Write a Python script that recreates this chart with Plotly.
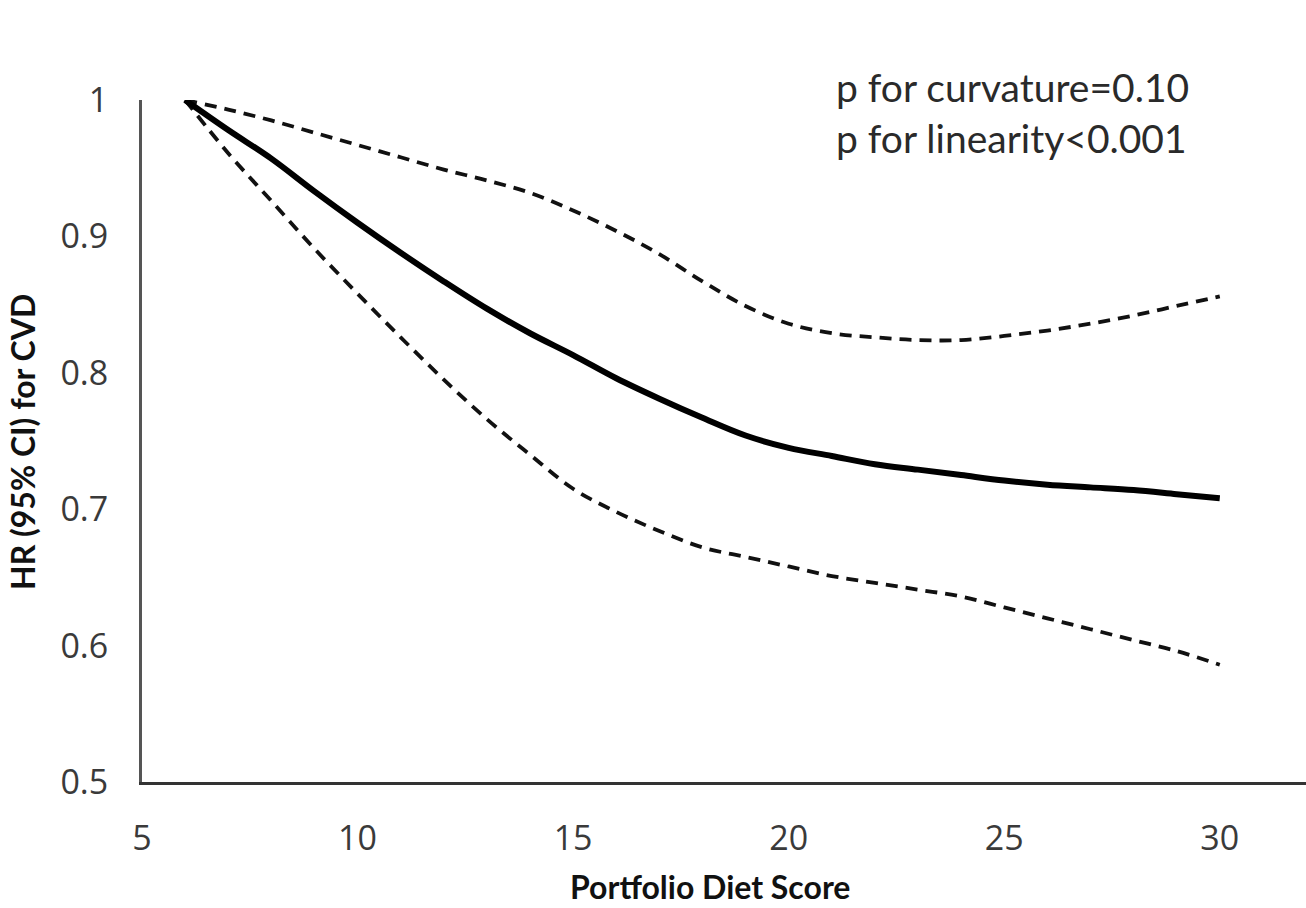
import plotly.graph_objects as go

# Portfolio Diet Score vs hazard ratio for CVD (restricted cubic spline)
score = [6, 7, 8, 9, 10, 11, 12, 13, 14, 15, 16, 17, 18, 19, 20,
         21, 22, 23, 24, 25, 26, 27, 28, 29, 30]
hr = [1.000, 0.978, 0.957, 0.933, 0.910, 0.888, 0.867, 0.847, 0.829, 0.813,
      0.796, 0.781, 0.767, 0.754, 0.745, 0.739, 0.733, 0.729, 0.725, 0.721,
      0.718, 0.716, 0.714, 0.711, 0.708]
ci_upper = [1.000, 0.993, 0.985, 0.976, 0.967, 0.958, 0.949, 0.941, 0.932, 0.919,
            0.904, 0.887, 0.867, 0.849, 0.836, 0.829, 0.826, 0.824, 0.824, 0.827,
            0.831, 0.836, 0.842, 0.849, 0.856]
ci_lower = [1.000, 0.961, 0.926, 0.891, 0.858, 0.826, 0.795, 0.766, 0.740, 0.715,
            0.698, 0.684, 0.672, 0.665, 0.658, 0.651, 0.646, 0.641, 0.636, 0.628,
            0.620, 0.612, 0.604, 0.596, 0.586]

x_ticks = [5, 10, 15, 20, 25, 30]
y_ticks = [0.5, 0.6, 0.7, 0.8, 0.9, 1.0]
y_ticktext = ["0.5", "0.6", "0.7", "0.8", "0.9", "1"]

stats_text = "p for curvature=0.10<br>p for linearity<0.001"
x_title = "Portfolio Diet Score"
y_title = "HR (95% CI) for CVD"

TEXT_FONT = "Lato, 'Open Sans', sans-serif"
TICK_FONT = "'Open Sans', sans-serif"

fig = go.Figure()

for ys in (ci_upper, ci_lower):
    fig.add_trace(go.Scatter(
        x=score, y=ys, mode="lines", line_shape="spline",
        line=dict(color="#111111", width=3.8, dash="12px,8px"),
        showlegend=False,
    ))

fig.add_trace(go.Scatter(
    x=score, y=hr, mode="lines", line_shape="spline",
    line=dict(color="#000000", width=6),
    showlegend=False,
))

fig.update_layout(
    width=1306, height=908,
    margin=dict(l=142, r=0, t=100, b=126),
    paper_bgcolor="white", plot_bgcolor="white",
    font=dict(family=TICK_FONT, color="#404040"),
    xaxis=dict(
        range=[5, 32.0], tickvals=x_ticks, showgrid=False, zeroline=False,
        showline=True, linecolor="#333333", linewidth=3, ticks="",
        tickfont=dict(size=34, color="#3a3a3a"), ticklabelstandoff=24,
    ),
    yaxis=dict(
        range=[0.5, 1.0], tickvals=y_ticks, ticktext=y_ticktext,
        showgrid=False, zeroline=False,
        showline=True, linecolor="#555555", linewidth=3, ticks="",
        tickfont=dict(size=34, color="#3a3a3a"), ticklabelstandoff=24,
    ),
    annotations=[
        dict(text=stats_text, xref="paper", yref="paper",
             x=(834 - 142) / 1164, y=(782 - 62) / 682,
             xanchor="left", yanchor="top", align="left", showarrow=False,
             font=dict(family=TEXT_FONT, size=39, color="#2a2a2a")),
        dict(text="<b>" + x_title + "</b>", xref="paper", yref="paper",
             x=(710 - 142) / 1164, y=(782 - 886) / 682,
             xanchor="center", yanchor="middle", showarrow=False,
             font=dict(family=TEXT_FONT, size=32, color="#111111")),
        dict(text="<b>" + y_title + "</b>", xref="paper", yref="paper",
             x=(22 - 142) / 1164, y=(782 - 442) / 682,
             xanchor="center", yanchor="middle", showarrow=False, textangle=-90,
             font=dict(family=TEXT_FONT, size=32, color="#111111")),
    ],
)

fig.write_html("out.html")
